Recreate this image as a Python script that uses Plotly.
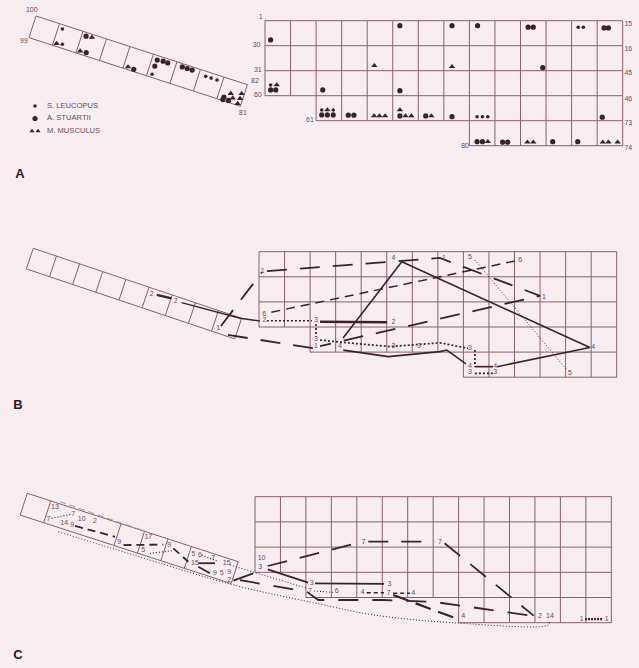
import math
import plotly.graph_objects as go

# ======================= DATA =======================
# trap grid structure: first column of each row of cells (14 columns wide)
GRID_ROW_START = [0, 0, 0, 2, 8]
GRID_COLS = 14
STRIP_CELLS = 9

# trap numbers printed round the main grid (panel A), grid units (col,row)
TRAP_LEFT_LABELS = ["1", "30", "31", "60", "61", "80"]
TRAP_LEFT_POS = [(-0.17, -0.12), (-0.33, 0.97), (-0.28, 1.97), (-0.28, 2.97), (1.76, 4.0), (7.83, 5.04)]
TRAP_RIGHT_LABELS = ["15", "16", "45", "46", "73", "74"]
TRAP_RIGHT_POS = [(14.22, 0.13), (14.22, 1.14), (14.22, 2.1), (14.22, 3.13), (14.22, 4.1), (14.22, 5.1)]
STRIP_LABELS = ["100", "99", "82", "81"]
STRIP_LABEL_POS = [(-0.23, -0.15), (-0.14, 1.14), (9.25, -0.21), (9.18, 1.14)]

SPECIES = ["S. LEUCOPUS", "A. STUARTII", "M. MUSCULUS"]

# panel A captures, main grid (col,row)
A_GRID_S = [(12.26, 0.26), (12.46, 0.26), (0.22, 2.57), (2.22, 3.57), (2.67, 3.57),
            (8.30, 3.84), (8.51, 3.84), (8.72, 3.84)]
A_GRID_A = [(0.22, 0.77), (5.28, 0.2), (7.32, 0.2), (8.32, 0.2), (10.3, 0.26), (10.5, 0.26),
            (13.27, 0.29), (13.44, 0.29), (10.87, 1.88), (0.22, 2.77), (0.42, 2.77), (2.26, 2.77),
            (5.28, 2.8), (2.22, 3.77), (2.44, 3.77), (2.67, 3.77), (3.26, 3.78), (3.48, 3.78),
            (5.28, 3.81), (6.29, 3.81), (7.32, 3.84), (13.2, 3.86), (8.30, 4.84), (8.51, 4.84),
            (9.3, 4.86), (9.5, 4.86), (11.26, 4.84), (12.24, 4.84)]
A_GRID_M = [(4.28, 1.8), (7.32, 1.84), (0.46, 2.57), (2.44, 3.57), (4.27, 3.81), (4.48, 3.81),
            (4.70, 3.81), (5.28, 3.57), (5.5, 3.81), (5.73, 3.81), (6.51, 3.81), (8.72, 4.84),
            (10.27, 4.86), (10.5, 4.86), (13.22, 4.86), (13.44, 4.86), (13.8, 4.86)]
# panel A captures, strip (u along strip, v across)
A_STRIP_S = [(1.18, 0.17), (1.37, 0.76), (7.29, 0.2), (7.52, 0.2), (7.77, 0.2), (5.20, 0.79)]
A_STRIP_A = [(2.18, 0.15), (2.39, 0.78), (4.43, 0.83), (5.22, 0.18), (5.46, 0.15), (5.66, 0.16),
             (5.20, 0.44), (6.27, 0.13), (6.48, 0.13), (6.69, 0.13), (8.25, 0.77), (8.24, 0.88),
             (8.47, 0.84)]
A_STRIP_M = [(1.14, 0.80), (2.42, 0.12), (2.14, 0.80), (4.18, 0.81), (8.47, 0.55), (8.89, 0.42),
             (8.6, 0.70), (8.89, 0.63), (8.86, 0.85)]

# panel B movements (grid units of panel B; None = pen lifted)
B_PATH_1 = [(-1.49, 2.96), (0.12, 0.81), None, (0.31, 0.77), (7.08, 0.25), (11.0, 1.76), (2.39, 3.76),
            None, (2.11, 3.84), (-1.45, 3.28)]
B_PATH_2 = [(-3.03, 2.03), (-0.74, 2.65), (0.04, 2.76)]
B_PATH_2_HEAVY = [(-4.0, 1.72), (-3.42, 1.86), None, (2.39, 2.79), (5.01, 2.81)]
B_PATH_3 = [(0.31, 2.75), (2.07, 2.75), None, (2.23, 2.88), (2.23, 3.4), None,
            (2.39, 3.52), (3.24, 3.61), (5.13, 3.78), (7.08, 3.63), (8.18, 3.85), None,
            (8.45, 3.92), (8.45, 4.58), None, (8.45, 4.85), (9.17, 4.85)]
B_PATH_4 = [(3.29, 3.44), (5.59, 0.4), (12.95, 3.82), (9.32, 4.58), None, (8.45, 4.58), (9.16, 4.58),
            None, (8.1, 4.47), (7.35, 3.92), (7.08, 3.98), (5.06, 4.18), (3.3, 3.92)]
B_PATH_5 = [(8.45, 0.33), (12.05, 4.71)]
B_PATH_6 = [(10.02, 0.37), (0.35, 2.44)]
B_LABELS = ["1", "1", "1", "1", "1", "2", "2", "6", "2", "3", "2", "3", "3", "3", "3", "4", "4",
            "3", "3", "4", "4", "4", "5", "5", "6"]
B_LABEL_POS = [(-1.59, 3.05), (0.14, 0.76), (7.24, 0.26), (11.15, 1.83), (2.23, 3.78),
               (-4.2, 1.68), (-3.26, 1.99), (0.2, 2.48), (0.2, 2.75), (2.23, 2.75), (5.26, 2.81),
               (2.23, 3.49), (5.26, 3.78), (6.26, 3.78), (8.26, 3.85), (8.26, 4.58), (9.24, 4.58),
               (8.26, 4.82), (9.24, 4.82), (5.26, 0.26), (13.08, 3.82), (3.17, 3.76),
               (8.26, 0.22), (12.17, 4.84), (10.22, 0.33)]

# panel C movements (grid units of panel C)
C_PATH_7 = [(0.5, 2.75), (4.1, 1.82), None, (4.45, 1.78), (7.05, 1.78), None, (7.45, 1.85), (10.95, 4.72)]
C_PATH_3 = [(-0.85, 3.33), (-0.07, 3.04), None, (0.5, 2.88), (2.09, 3.41), None, (2.36, 3.44), (5.07, 3.46),
            None, (-2.23, 2.64), (-1.57, 2.64), None, (-2.23, 2.78), (-1.77, 3.04)]
C_PATH_FINE = [(-0.98, 2.71), (2.0, 3.62), None, (2.32, 3.74), (3.1, 3.8)]
C_PATH_4 = [(4.39, 3.81), (5.07, 3.81), None, (5.43, 3.83), (6.09, 3.83)]
C_PATH_4_HEAVY = [(5.43, 3.9), (8.06, 4.89)]
C_PATH_LOW = [(-0.59, 3.31), (2.03, 3.77), (2.49, 4.1), (5.02, 4.1), (7.01, 4.17), (10.94, 4.73)]
C_ENVELOPE = [(-7.73, 1.39), (-4.78, 2.31), (-0.85, 3.5), (2.55, 4.26), (4.65, 4.69), (8.06, 5.02),
              (11.52, 5.09), (11.59, 4.93)]
C_TOP_DASH = [(-7.66, 0.2), (-4.26, 1.39)]
C_PATH_1 = [(12.97, 4.86), (13.67, 4.86)]
C_STRIP_DOT = [(-7.99, 0.86), (-7.2, 0.69), None, (-4.13, 2.25), (-3.22, 2.14), None,
               (-2.09, 2.31), (-1.44, 2.58)]
C_STRIP_DASH = [(-7.07, 1.16), (-5.5, 1.59), None, (-5.17, 1.92), (-3.6, 1.9), None,
                (-3.21, 2.05), (-2.62, 2.58)]
C_LABELS = ["7", "7", "2", "10", "3", "3", "3", "7", "6", "4", "7", "4", "4", "1", "1", "14",
            "13", "7", "7", "10", "2", "14", "9", "9", "17", "5", "9", "5", "6", "7", "15", "15",
            "9", "5", "9", "2"]
C_LABEL_POS = [(4.26, 1.79), (7.27, 1.79), (11.2, 4.76), (0.26, 2.44), (0.2, 2.8), (2.23, 3.44),
               (5.28, 3.46), (2.16, 3.74), (3.21, 3.77), (4.23, 3.81), (5.24, 3.83), (6.22, 3.83),
               (8.18, 4.76), (12.84, 4.85), (13.82, 4.85), (11.59, 4.76),
               (-7.86, 0.4), (-8.12, 0.9), (-7.14, 0.69), (-6.81, 0.9), (-6.29, 0.99), (-7.49, 1.06),
               (-7.18, 1.12), (-5.34, 1.79), (-4.19, 1.61), (-4.39, 2.14), (-3.37, 1.92),
               (-2.42, 2.27), (-2.16, 2.31), (-1.64, 2.44), (-2.36, 2.64), (-1.11, 2.64),
               (-1.57, 3.04), (-1.31, 3.04), (-1.01, 2.98), (-1.01, 3.31)]

# ======================= LAYOUT / STYLE =======================
W, H = 639, 668
BG = "#f8eef2"
GRID = "#87606a"
INK = "#3a2228"
TXT = "#6a4a52"
FONT = "Liberation Sans"

PANELS = {
    "A": dict(x0=265.0, y0=20.7, cw=25.55, ch=25.0, strip=(36.0, 16.0, 18.0, 24.7, 0.92),
              dividers=[1, 2, 3, 4, 5, 6, 7, 8], letter=(20, 175)),
    "B": dict(x0=259.0, y0=251.7, cw=25.55, ch=25.1, strip=(33.3, 248.3, 18.57, 24.42, 0.89),
              dividers=[1, 2, 3, 4, 5, 6, 7, 8], letter=(18, 406)),
    "C": dict(x0=255.0, y0=496.7, cw=25.45, ch=25.2, strip=(27.3, 493.3, 17.96, 24.64, 0.93),
              dividers=[1, 4, 5, 6, 7], letter=(18, 656)),
}


def gxy(panel, pts):
    p = PANELS[panel]
    xs, ys = [], []
    for pt in pts:
        if pt is None:
            xs.append(None); ys.append(None)
        else:
            xs.append(p["x0"] + pt[0] * p["cw"]); ys.append(p["y0"] + pt[1] * p["ch"])
    return xs, ys


def sxy(panel, pts):
    ox, oy, ang, L, _ = PANELS[panel]["strip"]
    a = math.radians(ang)
    xs, ys = [], []
    for pt in pts:
        if pt is None:
            xs.append(None); ys.append(None)
        else:
            u, v = pt
            xs.append(ox + L * (u * math.cos(a) - v * math.sin(a)))
            ys.append(oy + L * (u * math.sin(a) + v * math.cos(a)))
    return xs, ys


fig = go.Figure()


def add_line(xs, ys, color=INK, width=1.0, dash="solid", shape="linear"):
    fig.add_trace(go.Scatter(x=xs, y=ys, mode="lines", hoverinfo="skip",
                             line=dict(color=color, width=width, dash=dash, shape=shape)))


def add_text(xs, ys, texts, size=7, color=TXT, pos="middle center"):
    fig.add_trace(go.Scatter(x=xs, y=ys, mode="text", text=texts, hoverinfo="skip",
                             textposition=pos, textfont=dict(family=FONT, size=size, color=color)))


# ---------- grids ----------
nrows = len(GRID_ROW_START)
for panel in PANELS:
    pts = []
    for r in range(nrows + 1):
        if r == 0:
            start = GRID_ROW_START[0]
        elif r == nrows:
            start = GRID_ROW_START[-1]
        else:
            start = min(GRID_ROW_START[r - 1], GRID_ROW_START[r])
        pts += [(start, r), (GRID_COLS, r), None]
    for c in range(GRID_COLS + 1):
        bottom = max(r for r in range(nrows) if GRID_ROW_START[r] <= c) + 1
        pts += [(c, 0), (c, bottom), None]
    xs, ys = gxy(panel, pts)
    add_line(xs, ys, color=GRID, width=1.0)
    # strip
    wv = PANELS[panel]["strip"][4]
    spts = [(0, 0), (STRIP_CELLS, 0), (STRIP_CELLS, wv), (0, wv), (0, 0), None]
    for d in PANELS[panel]["dividers"]:
        spts += [(d, 0), (d, wv), None]
    xs, ys = sxy(panel, spts)
    add_line(xs, ys, color=GRID, width=1.0)
    lx, ly = PANELS[panel]["letter"]
    add_text([lx], [ly], ["<b>%s</b>" % panel], size=13, color="#2a1820")

# ---------- panel A ----------
sym = {"S": dict(symbol="circle", size=3.6), "A": dict(symbol="circle", size=5.2),
       "M": dict(symbol="triangle-up", size=5.6)}
for key, gpts, spts, name in [("S", A_GRID_S, A_STRIP_S, SPECIES[0]),
                              ("A", A_GRID_A, A_STRIP_A, SPECIES[1]),
                              ("M", A_GRID_M, A_STRIP_M, SPECIES[2])]:
    gx, gy = gxy("A", gpts)
    sx, sy = sxy("A", spts)
    fig.add_trace(go.Scatter(x=gx + sx, y=gy + sy, mode="markers", name=name, hoverinfo="skip",
                             marker=dict(color=INK, line=dict(width=0), **sym[key])))

xs, ys = gxy("A", TRAP_LEFT_POS)
add_text(xs, ys, TRAP_LEFT_LABELS)
xs, ys = gxy("A", TRAP_RIGHT_POS)
add_text(xs, ys, TRAP_RIGHT_LABELS)
xs, ys = sxy("A", STRIP_LABEL_POS)
add_text(xs, ys, STRIP_LABELS)

# legend drawn in place
LEG_X, LEG_Y, LEG_DY = 35, 106, 12.5
fig.add_trace(go.Scatter(x=[LEG_X], y=[LEG_Y], mode="markers", hoverinfo="skip",
                         marker=dict(color=INK, **sym["S"])))
fig.add_trace(go.Scatter(x=[LEG_X], y=[LEG_Y + LEG_DY], mode="markers", hoverinfo="skip",
                         marker=dict(color=INK, **sym["A"])))
fig.add_trace(go.Scatter(x=[LEG_X - 3, LEG_X + 3], y=[LEG_Y + 2 * LEG_DY] * 2, mode="markers",
                         hoverinfo="skip", marker=dict(color=INK, symbol="triangle-up", size=4.5)))
add_text([LEG_X + 12] * 3, [LEG_Y + i * LEG_DY for i in range(3)], SPECIES, size=7.6,
         pos="middle right")

# ---------- panel B ----------
for pts, style in [(B_PATH_1, dict(width=1.8, dash="20px,13px")),
                   (B_PATH_2, dict(width=1.4)),
                   (B_PATH_2_HEAVY, dict(width=2.4)),
                   (B_PATH_3, dict(width=1.7, dash="2px,2px")),
                   (B_PATH_4, dict(width=1.6)),
                   (B_PATH_5, dict(width=1.0, dash="1px,2px")),
                   (B_PATH_6, dict(width=1.5, dash="9px,6px"))]:
    xs, ys = gxy("B", pts)
    add_line(xs, ys, **style)
xs, ys = gxy("B", B_LABEL_POS)
add_text(xs, ys, B_LABELS)

# ---------- panel C ----------
for pts, style in [(C_TOP_DASH, dict(width=1.0, dash="6px,4px", color="#a8919a")),
                   (C_ENVELOPE, dict(width=1.0, dash="1px,2px", shape="spline")),
                   (C_PATH_7, dict(width=1.8, dash="20px,13px")),
                   (C_PATH_LOW, dict(width=1.8, dash="20px,14px")),
                   (C_PATH_3, dict(width=1.8)),
                   (C_PATH_FINE, dict(width=1.0, dash="1px,2px")),
                   (C_PATH_4, dict(width=1.4, dash="4px,3px")),
                   (C_PATH_4_HEAVY, dict(width=2.2, dash="16px,8px")),
                   (C_PATH_1, dict(width=2.2, dash="2px,1px")),
                   (C_STRIP_DOT, dict(width=1.2, dash="1px,2px")),
                   (C_STRIP_DASH, dict(width=1.8, dash="8px,5px"))]:
    xs, ys = gxy("C", pts)
    add_line(xs, ys, **style)
xs, ys = gxy("C", C_LABEL_POS)
add_text(xs, ys, C_LABELS)

fig.update_layout(width=W, height=H, margin=dict(l=0, r=0, t=0, b=0),
                  paper_bgcolor=BG, plot_bgcolor=BG, showlegend=False,
                  xaxis=dict(range=[0, W], visible=False, fixedrange=True),
                  yaxis=dict(range=[H, 0], visible=False, fixedrange=True))
fig.write_html("out.html", config={"displayModeBar": False, "staticPlot": True},
               post_script="document.body.style.margin='0';document.body.style.overflow='hidden';"
                           "document.body.style.background='%s';" % BG)
